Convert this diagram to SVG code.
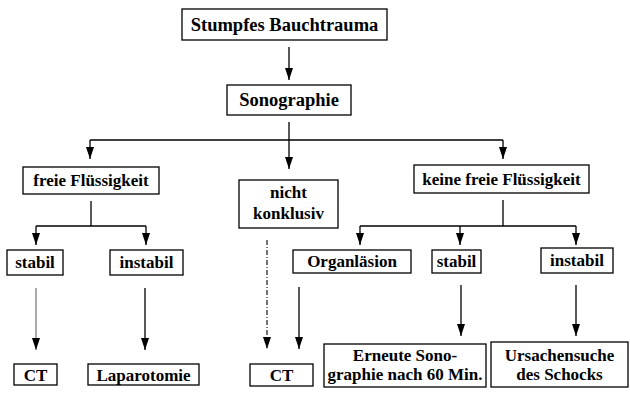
<svg xmlns="http://www.w3.org/2000/svg" width="630" height="394" viewBox="0 0 630 394">
<defs>
<marker id="ah" viewBox="0 0 12 8" refX="12" refY="4" markerWidth="12" markerHeight="8" markerUnits="userSpaceOnUse" orient="auto">
<path d="M0,0 L12,4 L0,8 Z" fill="#000"/>
</marker>
<style>
rect{fill:#fff;stroke:#000;stroke-width:1.3}
.c line,.c path{stroke:#000;stroke-width:1.3;fill:none}
.c .thin{stroke:#555;stroke-width:1}
.c .dash{stroke-dasharray:5 2 1 2;stroke-width:1.1}
</style>
</defs>
<rect x="0" y="0" width="630" height="394" style="fill:#fff;stroke:none"/>
<g class="c" id="connectors">
<line marker-end="url(#ah)" x1="289" y1="47" x2="289" y2="80"/>
<line marker-end="url(#ah)" x1="289" y1="122" x2="289" y2="169"/>
<path marker-end="url(#ah)" d="M90,140 L90,159"/>
<line x1="90" y1="140" x2="503" y2="140"/>
<path marker-end="url(#ah)" d="M503,140 L503,159"/>
<line x1="91" y1="201" x2="91" y2="226"/>
<line x1="36" y1="226" x2="146" y2="226"/>
<line marker-end="url(#ah)" x1="36" y1="226" x2="36" y2="245"/>
<line marker-end="url(#ah)" x1="146" y1="226" x2="146" y2="245"/>
<line x1="503" y1="200" x2="503" y2="226"/>
<line x1="360" y1="226" x2="576" y2="226"/>
<line marker-end="url(#ah)" x1="360" y1="226" x2="360" y2="245"/>
<line marker-end="url(#ah)" x1="460" y1="226" x2="460" y2="245"/>
<line marker-end="url(#ah)" x1="576" y1="226" x2="576" y2="245"/>
<line class="thin" marker-end="url(#ah)" x1="36" y1="288" x2="36" y2="350"/>
<line marker-end="url(#ah)" x1="145" y1="288" x2="145" y2="350"/>
<line class="dash" marker-end="url(#ah)" x1="267" y1="240" x2="267" y2="349"/>
<line marker-end="url(#ah)" x1="299" y1="287" x2="299" y2="349"/>
<line marker-end="url(#ah)" x1="461" y1="285" x2="461" y2="336"/>
<line marker-end="url(#ah)" x1="576" y1="285" x2="576" y2="336"/>
</g>
<g font-family="'Liberation Serif', 'Times New Roman', 'DejaVu Serif', serif" font-weight="bold" font-size="17" text-anchor="middle" fill="#000">
<g id="n_stumpf"><rect x="182" y="9" width="205" height="31"/><text x="284.5" y="31" font-size="18.5">Stumpfes Bauchtrauma</text></g>
<g id="n_sono"><rect x="227" y="85" width="124" height="30"/><text x="289" y="106" font-size="18.5">Sonographie</text></g>
<g id="n_freie"><rect x="23" y="167" width="136" height="27"/><text x="91" y="186">freie Flüssigkeit</text></g>
<g id="n_nicht"><rect x="239" y="180" width="99" height="48"/><text x="288.5" y="198">nicht</text><text x="288.5" y="219">konklusiv</text></g>
<g id="n_keine"><rect x="414" y="165" width="175" height="28"/><text x="501.5" y="185">keine freie Flüssigkeit</text></g>
<g id="n_stabil1"><rect x="7" y="250" width="56" height="25"/><text x="35" y="268">stabil</text></g>
<g id="n_instabil1"><rect x="110" y="250" width="73" height="25"/><text x="146.5" y="268">instabil</text></g>
<g id="n_organ"><rect x="293" y="250" width="118" height="23"/><text x="352" y="267">Organläsion</text></g>
<g id="n_stabil2"><rect x="432" y="250" width="49" height="23"/><text x="456.5" y="267">stabil</text></g>
<g id="n_instabil2"><rect x="541" y="248" width="72" height="25"/><text x="577" y="266">instabil</text></g>
<g id="n_ct1"><rect x="14" y="364" width="43" height="21"/><text x="35.5" y="381">CT</text></g>
<g id="n_lap"><rect x="88" y="364" width="111" height="21"/><text x="143.5" y="381">Laparotomie</text></g>
<g id="n_ct2"><rect x="250" y="364" width="63" height="22"/><text x="281.5" y="381">CT</text></g>
<g id="n_erneut"><rect x="324" y="344" width="162" height="43"/><text x="405" y="361">Erneute Sono-</text><text x="405" y="380">graphie nach 60 Min.</text></g>
<g id="n_ursache"><rect x="491" y="342" width="137" height="45"/><text x="559.5" y="361">Ursachensuche</text><text x="559.5" y="380">des Schocks</text></g>
</g>
</svg>
